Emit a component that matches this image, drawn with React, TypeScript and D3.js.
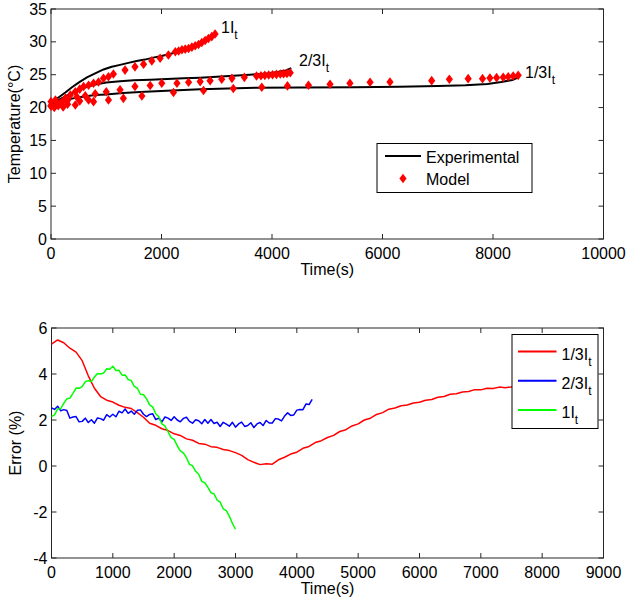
import React from 'react';
import * as d3 from 'd3';

// ---- top panel: temperature vs time ----
const expHigh: [number, number][] = [
  [0, 20.8], [130, 21.5], [260, 22.3], [380, 23.1], [500, 23.8], [650, 24.6], [800, 25.2],
  [950, 25.8], [1100, 26.2], [1250, 26.5], [1400, 26.8], [1550, 27.1], [1700, 27.3],
  [1850, 27.6], [2000, 27.85], [2150, 28.15], [2300, 28.5], [2450, 28.9], [2600, 29.4],
  [2750, 29.9], [2900, 30.6], [3000, 31.2]
];
const expMid: [number, number][] = [
  [0, 20.6], [150, 21.2], [300, 21.9], [450, 22.5], [600, 23.0], [800, 23.5], [1000, 23.8],
  [1250, 24.0], [1500, 24.15], [1800, 24.25], [2100, 24.35], [2400, 24.45], [2700, 24.55],
  [3000, 24.7], [3300, 24.85], [3600, 25.0], [3900, 25.2], [4100, 25.4], [4250, 25.65], [4350, 26.0]
];
const expLow: [number, number][] = [
  [0, 20.5], [200, 21.0], [400, 21.4], [600, 21.7], [800, 21.9], [1000, 22.0], [1300, 22.2],
  [1700, 22.4], [2200, 22.6], [2700, 22.8], [3200, 22.9], [3700, 23.0], [4500, 23.05],
  [5500, 23.1], [6300, 23.15], [7000, 23.3], [7500, 23.4], [7900, 23.6], [8150, 23.9],
  [8350, 24.2], [8460, 24.6]
];
const modelHigh: [number, number][] = [
  [0, 20.9], [80, 21.15], [170, 20.65], [260, 21.4], [350, 21.9], [440, 22.4], [520, 22.8],
  [590, 23.2], [680, 23.4], [770, 23.7], [860, 23.9], [950, 24.45], [1040, 24.7], [1130, 25.1],
  [1340, 25.7], [1520, 26.2], [1675, 26.6], [1825, 27.1], [1975, 27.5], [2125, 28.0],
  [2250, 28.5], [2310, 28.6], [2370, 28.8], [2430, 28.9], [2490, 29.0], [2550, 29.2],
  [2610, 29.4], [2670, 29.6], [2730, 29.9], [2790, 30.2], [2850, 30.5], [2910, 30.8], [2970, 31.2]
];
const modelMid: [number, number][] = [
  [0, 20.3], [100, 20.5], [200, 20.8], [300, 21.1], [470, 21.6], [620, 21.8], [800, 22.1],
  [1000, 22.4], [1250, 22.7], [1520, 23.2], [1795, 23.35], [2005, 23.7], [2280, 23.7],
  [2490, 23.85], [2700, 23.95], [2880, 24.1], [3090, 24.3], [3275, 24.45], [3500, 24.6],
  [3720, 24.8], [3800, 24.85], [3870, 24.9], [3940, 24.95], [4010, 25.0], [4080, 25.05],
  [4150, 25.1], [4210, 25.15], [4270, 25.2], [4330, 25.3]
];
const modelLow: [number, number][] = [
  [0, 20.2], [60, 20.0], [130, 20.3], [220, 20.1], [300, 20.5], [440, 20.4], [520, 21.0],
  [680, 21.15], [770, 20.9], [1040, 21.15], [1310, 21.4], [1645, 21.76], [2217, 22.3],
  [2760, 22.6], [3300, 22.9], [3815, 23.1], [4280, 23.3], [4660, 23.4], [5050, 23.55],
  [5410, 23.7], [5775, 23.85], [6135, 23.9], [6890, 24.1], [7210, 24.3], [7550, 24.4],
  [7810, 24.4], [7944, 24.5], [8065, 24.55], [8185, 24.6], [8275, 24.7], [8365, 24.8], [8456, 24.9]
];

// ---- bottom panel: error (%) sampled on a fixed time grid ----
const errLowStep = 100;
const errLow = [
  5.30, 5.48, 5.36, 5.12, 4.95, 4.58, 3.92, 3.38, 3.02, 2.86, 2.78, 2.64, 2.55, 2.50, 2.32, 2.12,
  1.86, 1.77, 1.62, 1.54, 1.40, 1.33, 1.18, 1.12, 0.98, 0.95, 0.84, 0.81, 0.72, 0.67, 0.58, 0.46,
  0.28, 0.16, 0.06, 0.10, 0.08, 0.27, 0.38, 0.52, 0.60, 0.77, 0.85, 1.02, 1.10, 1.24, 1.33, 1.50,
  1.58, 1.74, 1.83, 2.00, 2.08, 2.24, 2.32, 2.47, 2.52, 2.62, 2.65, 2.74, 2.77, 2.86, 2.89, 2.99,
  3.02, 3.12, 3.14, 3.22, 3.24, 3.32, 3.31, 3.38, 3.37, 3.43, 3.40, 3.44, 3.43, 3.48, 3.47, 3.51,
  3.49, 3.53, 3.52, 3.56, 3.55
];
const errMidStep = 50;
const errMid = [
  2.53, 2.46, 2.60, 2.40, 2.45, 2.41, 2.08, 2.13, 2.15, 1.92, 1.94, 2.08, 1.89, 2.01, 1.86, 2.09,
  2.06, 1.99, 2.23, 2.13, 2.25, 2.14, 2.38, 2.31, 2.48, 2.29, 2.39, 2.25, 2.42, 2.44, 2.25, 2.15,
  2.24, 2.27, 2.02, 2.08, 1.92, 2.13, 2.08, 1.98, 2.14, 2.00, 1.92, 2.07, 2.12, 1.94, 1.86, 2.01,
  1.97, 1.84, 2.02, 1.86, 2.02, 1.85, 1.90, 1.72, 1.90, 1.82, 1.73, 1.90, 1.69, 1.83, 1.91, 1.72,
  1.76, 1.88, 1.67, 1.83, 1.89, 1.76, 1.98, 1.87, 1.87, 2.06, 2.04, 1.96, 2.17, 2.31, 2.20, 2.22,
  2.43, 2.46, 2.45, 2.70, 2.67, 2.90
];
const errHighStep = 50;
const errHigh = [
  2.15, 2.22, 2.48, 2.49, 2.72, 2.92, 2.95, 3.16, 3.39, 3.38, 3.45, 3.66, 3.71, 3.67, 3.87, 4.02,
  4.00, 4.04, 4.23, 4.21, 4.34, 4.15, 4.16, 3.95, 3.96, 3.76, 3.71, 3.46, 3.38, 3.12, 3.10, 2.92,
  2.66, 2.57, 2.27, 2.14, 1.83, 1.74, 1.49, 1.23, 1.16, 0.88, 0.66, 0.57, 0.36, 0.07, 0.01, -0.23,
  -0.36, -0.67, -0.73, -0.93, -1.16, -1.21, -1.48, -1.57, -1.86, -1.94, -2.18, -2.50, -2.75
];

const xTicksTop = [0, 2000, 4000, 6000, 8000, 10000];
const yTicksTop = [0, 5, 10, 15, 20, 25, 30, 35];
const xTicksBot = [0, 1000, 2000, 3000, 4000, 5000, 6000, 7000, 8000, 9000];
const yTicksBot = [-4, -2, 0, 2, 4, 6];

const FONT = 'Liberation Sans, Arial, sans-serif';
const AX = '#262626';

const xTop = d3.scaleLinear().domain([0, 10000]).range([51, 603.5]);
const yTop = d3.scaleLinear().domain([0, 35]).range([239, 9]);
const xBot = d3.scaleLinear().domain([0, 9000]).range([51.5, 603.5]);
const yBot = d3.scaleLinear().domain([-4, 6]).range([558, 328]);

type Lin = d3.ScaleLinear<number, number>;

function Axes({ x, y, xt, yt, xLabel, yLabel, yLabelX }: {
  x: Lin; y: Lin; xt: number[]; yt: number[]; xLabel: string; yLabel: string; yLabelX: number;
}) {
  const [x0, x1] = x.range();
  const [y0, y1] = y.range(); // y0 bottom, y1 top
  const tl = 5;
  return (
    <g fontFamily={FONT} fill="#000">
      <rect x={x0} y={y1} width={x1 - x0} height={y0 - y1} fill="none" stroke={AX} strokeWidth={1} />
      {xt.map(t => (
        <g key={'x' + t}>
          <line x1={x(t)} x2={x(t)} y1={y0} y2={y0 - tl} stroke={AX} />
          <line x1={x(t)} x2={x(t)} y1={y1} y2={y1 + tl} stroke={AX} />
          <text x={x(t)} y={y0 + 19.5} fontSize={16} textAnchor="middle">{t}</text>
        </g>
      ))}
      {yt.map(t => (
        <g key={'y' + t}>
          <line x1={x0} x2={x0 + tl} y1={y(t)} y2={y(t)} stroke={AX} />
          <line x1={x1} x2={x1 - tl} y1={y(t)} y2={y(t)} stroke={AX} />
          <text x={x0 - 4} y={y(t) + 5.5} fontSize={16} textAnchor="end">{t}</text>
        </g>
      ))}
      <text x={(x0 + x1) / 2} y={y0 + 36} fontSize={16} textAnchor="middle">{xLabel}</text>
      <text transform={`translate(${yLabelX},${(y0 + y1) / 2}) rotate(-90)`} fontSize={16} textAnchor="middle">{yLabel}</text>
    </g>
  );
}

const diamond = 'M0,-4.8L3.6,0L0,4.8L-3.6,0Z';

function Sub({ x, y, main, size = 16 }: { x: number; y: number; main: string; size?: number }) {
  return (
    <text x={x} y={y} fontFamily={FONT} fontSize={size} fill="#000">
      {main}<tspan dy={6} fontSize={size * 0.75}>t</tspan>
    </text>
  );
}

export default function App() {
  const lineTop = d3.line<[number, number]>().x(d => xTop(d[0])).y(d => yTop(d[1]));
  const gridLine = (vals: number[], step: number) =>
    d3.line<number>().x((_, i) => xBot(i * step)).y(d => yBot(d))(vals) || '';

  return (
    <svg width={631} height={604} style={{ position: 'absolute', left: 0, top: 0, background: '#fff' }}>
      {/* top panel */}
      <Axes x={xTop} y={yTop} xt={xTicksTop} yt={yTicksTop} xLabel="Time(s)" yLabel="Temperature(°C)" yLabelX={19.5} />
      {[expHigh, expMid, expLow].map((s, i) => (
        <path key={i} d={lineTop(s) || ''} fill="none" stroke="#000" strokeWidth={2} />
      ))}
      {[modelHigh, modelMid, modelLow].map((s, i) => (
        <g key={i}>
          {s.map((d, j) => (
            <path key={j} d={diamond} transform={`translate(${xTop(d[0])},${yTop(d[1])})`} fill="#ff0000" />
          ))}
        </g>
      ))}
      <Sub x={221} y={33} main="1I" />
      <Sub x={299} y={66} main="2/3I" />
      <Sub x={525} y={78} main="1/3I" />

      <g fontFamily={FONT}>
        <rect x={377} y={143.5} width={155} height={49} fill="#fff" stroke="#000" />
        <line x1={385} x2={421} y1={156} y2={156} stroke="#000" strokeWidth={2} />
        <text x={426} y={162.5} fontSize={16}>Experimental</text>
        <path d={diamond} transform="translate(403,178.5)" fill="#ff0000" />
        <text x={426} y={185} fontSize={16}>Model</text>
      </g>

      {/* bottom panel */}
      <Axes x={xBot} y={yBot} xt={xTicksBot} yt={yTicksBot} xLabel="Time(s)" yLabel="Error (%)" yLabelX={21} />
      <g fill="none" strokeWidth={1.5} strokeLinejoin="round">
        <path d={gridLine(errLow, errLowStep)} stroke="#ff0000" />
        <path d={gridLine(errMid, errMidStep)} stroke="#0000ff" />
        <path d={gridLine(errHigh, errHighStep)} stroke="#00ff00" />
      </g>

      <rect x={512} y={334.5} width={86} height={94} fill="#fff" stroke="#000" />
      {[
        { c: '#ff0000', t: '1/3I' },
        { c: '#0000ff', t: '2/3I' },
        { c: '#00ff00', t: '1I' }
      ].map((e, i) => {
        const yy = 351.5 + i * 29.3;
        return (
          <g key={i}>
            <line x1={518} x2={556.5} y1={yy} y2={yy} stroke={e.c} strokeWidth={2} />
            <Sub x={561.5} y={yy + 8} main={e.t} />
          </g>
        );
      })}
    </svg>
  );
}
